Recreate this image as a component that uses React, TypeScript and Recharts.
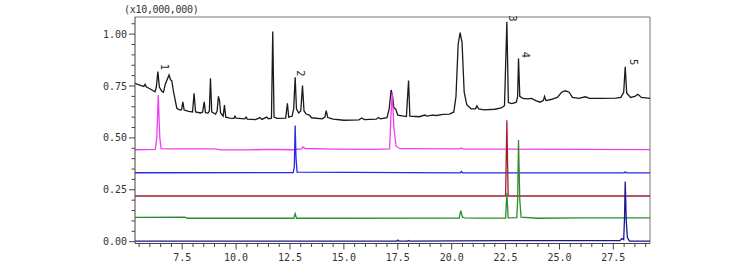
import React from 'react';
import { LineChart, Line, XAxis, YAxis, ReferenceDot, ReferenceLine } from 'recharts';

// retention time (min), intensity (x10,000,000)
const ticTrace: [number, number][] = [
  [5.3, 0.763], [5.6, 0.752], [5.72, 0.748], [5.78, 0.758], [5.84, 0.745], [6.0, 0.737],
  [6.24, 0.722], [6.3, 0.745], [6.37, 0.82], [6.44, 0.745], [6.55, 0.725], [6.63, 0.72],
  [6.72, 0.76], [6.78, 0.775], [6.89, 0.803], [6.96, 0.78], [7.02, 0.775], [7.1, 0.72],
  [7.25, 0.643], [7.4, 0.634], [7.47, 0.636], [7.53, 0.674], [7.59, 0.634], [7.8, 0.628],
  [7.98, 0.625], [8.05, 0.715], [8.12, 0.625], [8.35, 0.62], [8.45, 0.625], [8.52, 0.674],
  [8.58, 0.622], [8.7, 0.62], [8.76, 0.63], [8.81, 0.787], [8.87, 0.625], [9.05, 0.615],
  [9.12, 0.63], [9.18, 0.7], [9.23, 0.68], [9.28, 0.62], [9.4, 0.605], [9.46, 0.658],
  [9.52, 0.6], [9.7, 0.595], [9.9, 0.594], [9.95, 0.605], [10.0, 0.595], [10.4, 0.592],
  [10.46, 0.6], [10.52, 0.59], [10.9, 0.588], [11.11, 0.598], [11.2, 0.589], [11.42, 0.6],
  [11.5, 0.592], [11.64, 0.595], [11.7, 1.012], [11.76, 0.6], [11.9, 0.594], [12.3, 0.595],
  [12.38, 0.667], [12.44, 0.6], [12.6, 0.605], [12.67, 0.64], [12.74, 0.792], [12.8, 0.64],
  [12.9, 0.62], [13.0, 0.63], [13.08, 0.752], [13.15, 0.63], [13.25, 0.615], [13.4, 0.61],
  [13.5, 0.597], [14.0, 0.592], [14.12, 0.6], [14.18, 0.631], [14.25, 0.598], [14.5, 0.59],
  [15.0, 0.585], [15.7, 0.587], [15.83, 0.596], [15.95, 0.588], [16.5, 0.59], [16.6, 0.598],
  [16.7, 0.592], [17.0, 0.597], [17.1, 0.64], [17.19, 0.731], [17.26, 0.7], [17.32, 0.645],
  [17.4, 0.64], [17.5, 0.61], [17.9, 0.603], [18.0, 0.776], [18.06, 0.605], [18.5, 0.602],
  [18.75, 0.61], [18.85, 0.605], [19.1, 0.61], [19.3, 0.608], [19.6, 0.613], [19.9, 0.615],
  [20.1, 0.625], [20.2, 0.7], [20.3, 0.95], [20.39, 1.007], [20.48, 0.96], [20.58, 0.72],
  [20.7, 0.66], [20.9, 0.64], [21.1, 0.64], [21.17, 0.654], [21.25, 0.64], [21.5, 0.635],
  [22.0, 0.638], [22.3, 0.645], [22.45, 0.655], [22.56, 1.06], [22.63, 0.67], [22.8, 0.665],
  [23.0, 0.672], [23.06, 0.7], [23.1, 0.883], [23.16, 0.7], [23.3, 0.69], [23.5, 0.688],
  [23.7, 0.69], [23.9, 0.68], [24.1, 0.672], [24.25, 0.68], [24.31, 0.7], [24.37, 0.68],
  [24.6, 0.685], [24.9, 0.695], [25.1, 0.72], [25.27, 0.727], [25.45, 0.72], [25.6, 0.695],
  [25.9, 0.69], [26.2, 0.698], [26.4, 0.69], [27.0, 0.69], [27.6, 0.692], [27.85, 0.695],
  [27.98, 0.72], [28.05, 0.843], [28.12, 0.715], [28.3, 0.695], [28.5, 0.7], [28.64, 0.71],
  [28.8, 0.695], [29.2, 0.69],
];

const pinkTrace: [number, number][] = [
  [5.3, 0.443], [6.25, 0.445], [6.32, 0.5], [6.39, 0.706], [6.46, 0.5], [6.52, 0.448],
  [7.0, 0.447], [9.0, 0.447], [9.3, 0.442], [10.5, 0.442], [11.5, 0.445], [12.6, 0.443],
  [13.05, 0.447], [13.1, 0.456], [13.2, 0.449], [14.5, 0.446], [16.5, 0.445], [17.12, 0.447],
  [17.18, 0.6], [17.24, 0.72], [17.32, 0.55], [17.42, 0.46], [17.6, 0.448], [20.35, 0.447],
  [20.45, 0.452], [20.55, 0.446], [29.2, 0.444],
];

const blueTrace: [number, number][] = [
  [5.3, 0.332], [12.65, 0.333], [12.7, 0.36], [12.74, 0.56], [12.78, 0.4], [12.83, 0.335],
  [20.4, 0.332], [20.45, 0.338], [20.5, 0.332], [28.0, 0.332], [28.05, 0.336], [28.1, 0.332],
  [29.2, 0.332],
];

const redTrace: [number, number][] = [
  [5.3, 0.22], [22.5, 0.22], [22.56, 0.585], [22.62, 0.22], [29.2, 0.22],
];

const greenTrace: [number, number][] = [
  [5.3, 0.117], [7.6, 0.118], [7.75, 0.113], [12.68, 0.113], [12.74, 0.135], [12.8, 0.113],
  [20.35, 0.114], [20.42, 0.15], [20.5, 0.118], [20.6, 0.115], [21.2, 0.114], [22.5, 0.114],
  [22.56, 0.233], [22.62, 0.115], [23.02, 0.116], [23.06, 0.2], [23.1, 0.49], [23.16, 0.2],
  [23.22, 0.118], [24.0, 0.113], [26.0, 0.115], [29.2, 0.115],
];

const navyTrace: [number, number][] = [
  [5.3, 0.003], [17.45, 0.003], [17.5, 0.008], [17.55, 0.003], [17.95, 0.003], [18.0, 0.006],
  [18.05, 0.003], [23.0, 0.005], [27.8, 0.005], [27.9, 0.015], [27.98, 0.01], [28.02, 0.12],
  [28.05, 0.29], [28.1, 0.1], [28.15, 0.02], [28.25, 0.003], [29.2, 0.003],
];

const peakLabels: { t: number; v: number; text: string }[] = [
  { t: 6.69, v: 0.84, text: '1' },
  { t: 12.97, v: 0.81, text: '2' },
  { t: 22.84, v: 1.075, text: '3' },
  { t: 23.41, v: 0.9, text: '4' },
  { t: 28.42, v: 0.865, text: '5' },
];

const xTicks = Array.from({ length: 48 }, (_, i) => 5.5 + i * 0.5);
const yTicks = Array.from({ length: 22 }, (_, i) => +(i * 0.05).toFixed(2));

const X_DOMAIN: [number, number] = [5.31, 29.2];
const Y_DOMAIN: [number, number] = [-0.0087, 1.0824];

const toPoints = (arr: [number, number][]) => arr.map(([t, v]) => ({ t, v }));

const series = [
  { name: 'TIC', data: toPoints(ticTrace), color: '#1a1a1a' },
  { name: 'm1', data: toPoints(pinkTrace), color: '#f23cf2' },
  { name: 'm2', data: toPoints(blueTrace), color: '#2828e6' },
  { name: 'm3', data: toPoints(redTrace), color: '#a01e32' },
  { name: 'm4', data: toPoints(greenTrace), color: '#2e8b2e' },
  { name: 'm5', data: toPoints(navyTrace), color: '#181890' },
];

const FONT = 'DejaVu Sans Mono';
const isMultiple = (v: number, step: number) => Math.abs(v / step - Math.round(v / step)) < 1e-6;

// tick lines drawn here so majors can be longer than minors
const XTick = (props: any) => {
  const { x, y, payload } = props;
  const major = isMultiple(payload.value, 2.5);
  return (
    <g>
      <line x1={x} x2={x} y1={y - 3} y2={major ? y + 3 : y + 0.5} stroke="#444" />
      {major && (
        <text x={x} y={y + 14} textAnchor="middle" fontSize={10} fontFamily={FONT} fill="#333">
          {payload.value.toFixed(1)}
        </text>
      )}
    </g>
  );
};

const YTick = (props: any) => {
  const { x, y, payload } = props;
  const major = isMultiple(payload.value, 0.25);
  return (
    <g>
      <line x1={major ? x - 3 : x - 0.5} x2={x + 3} y1={y} y2={y} stroke="#444" />
      {major && (
        <text x={x - 5} y={y} dy="0.35em" textAnchor="end" fontSize={10} fontFamily={FONT} fill="#333">
          {payload.value.toFixed(2)}
        </text>
      )}
    </g>
  );
};

const App = () => {
  return (
    <div style={{ position: 'absolute', left: 0, top: 0, width: 756, height: 274, background: '#fff' }}>
      <div
        style={{
          position: 'absolute', left: 124, top: 4, fontSize: 10,
          fontFamily: FONT, color: '#333', letterSpacing: -0.3,
        }}
      >
        (x10,000,000)
      </div>
      <LineChart width={756} height={274} margin={{ top: 17, right: 106, bottom: 10.5, left: 90 }}>
        <XAxis
          dataKey="t"
          type="number"
          domain={X_DOMAIN}
          ticks={xTicks}
          interval={0}
          allowDataOverflow
          tickSize={3}
          tickMargin={0}
          tickLine={false}
          height={20}
          stroke="#444"
          tick={<XTick />}
        />
        <YAxis
          type="number"
          domain={Y_DOMAIN}
          ticks={yTicks}
          interval={0}
          allowDataOverflow
          width={45}
          tickSize={3}
          tickMargin={0}
          tickLine={false}
          stroke="#444"
          tick={<YTick />}
        />
        <ReferenceLine y={Y_DOMAIN[1]} stroke="#777" ifOverflow="visible" />
        <ReferenceLine x={X_DOMAIN[1]} stroke="#777" ifOverflow="visible" />
        {series.map((s) => (
          <Line
            key={s.name}
            data={s.data}
            dataKey="v"
            type="linear"
            stroke={s.color}
            strokeWidth={1.3}
            dot={false}
            activeDot={false}
            isAnimationActive={false}
          />
        ))}
        {peakLabels.map((p) => (
          <ReferenceDot
            key={p.text}
            x={p.t}
            y={p.v}
            r={0}
            ifOverflow="visible"
            shape={(props: any) => (
              <text
                x={props.cx}
                y={props.cy}
                fontSize={10}
                fontFamily="DejaVu Sans"
                fill="#222"
                textAnchor="middle"
                dominantBaseline="central"
                transform={`rotate(90 ${props.cx} ${props.cy})`}
              >
                {p.text}
              </text>
            )}
          />
        ))}
      </LineChart>
    </div>
  );
};

export default App;
